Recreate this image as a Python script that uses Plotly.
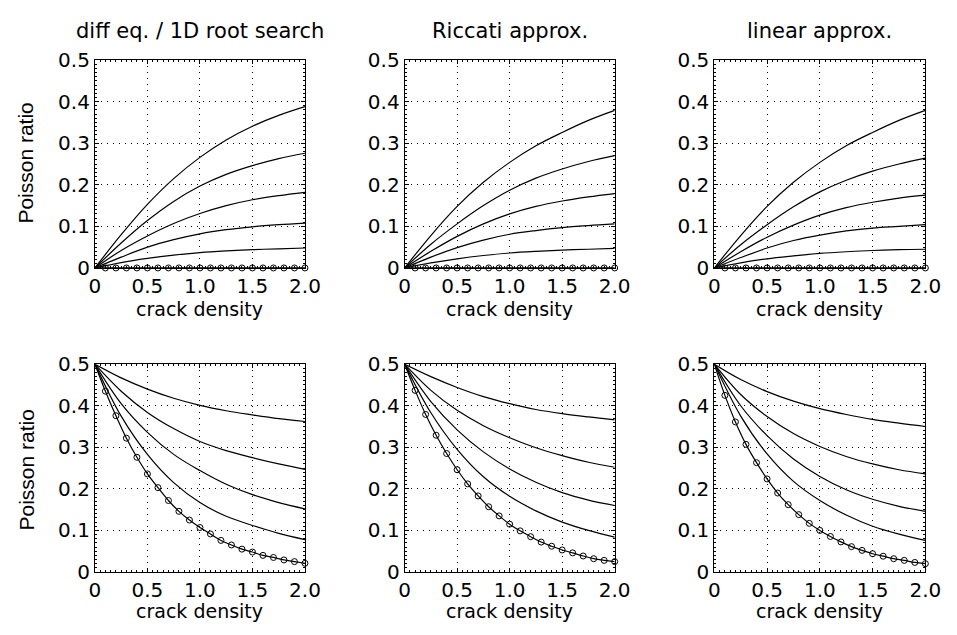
import plotly.graph_objects as go

# ---------------- data ----------------
X_CURVE = [0, 0.25, 0.5, 0.75, 1.0, 1.25, 1.5, 1.75, 2.0]
X_MARK = [0, 0.1, 0.2, 0.3, 0.4, 0.5, 0.6, 0.7, 0.8, 0.9, 1.0,
          1.1, 1.2, 1.3, 1.4, 1.5, 1.6, 1.7, 1.8, 1.9, 2.0]

PANEL_TITLES = ["diff eq. / 1D root search", "Riccati approx.", "linear approx."]
X_TICKVALS = [0, 0.5, 1.0, 1.5, 2.0]
X_TICKTEXT = ["0", "0.5", "1.0", "1.5", "2.0"]
Y_TICKVALS = [0, 0.1, 0.2, 0.3, 0.4, 0.5]
Y_TICKTEXT = ["0", "0.1", "0.2", "0.3", "0.4", "0.5"]

# top row (starting Poisson ratio 0)
top_diff = [
    [0, 0.080, 0.153, 0.215, 0.266, 0.308, 0.341, 0.367, 0.388],
    [0, 0.060, 0.114, 0.160, 0.197, 0.225, 0.246, 0.263, 0.276],
    [0, 0.042, 0.077, 0.107, 0.131, 0.150, 0.164, 0.174, 0.182],
    [0, 0.026, 0.050, 0.068, 0.082, 0.092, 0.099, 0.104, 0.108],
    [0, 0.013, 0.023, 0.031, 0.037, 0.041, 0.044, 0.046, 0.048],
]
top_riccati = [
    [0, 0.078, 0.148, 0.206, 0.254, 0.294, 0.326, 0.355, 0.379],
    [0, 0.057, 0.106, 0.150, 0.187, 0.216, 0.238, 0.256, 0.270],
    [0, 0.040, 0.076, 0.106, 0.130, 0.148, 0.161, 0.171, 0.179],
    [0, 0.026, 0.049, 0.067, 0.081, 0.090, 0.097, 0.102, 0.106],
    [0, 0.012, 0.022, 0.030, 0.036, 0.040, 0.043, 0.045, 0.047],
]
top_linear = [
    [0, 0.078, 0.148, 0.206, 0.254, 0.294, 0.326, 0.355, 0.379],
    [0, 0.056, 0.104, 0.147, 0.183, 0.211, 0.233, 0.250, 0.264],
    [0, 0.039, 0.074, 0.103, 0.127, 0.145, 0.158, 0.168, 0.175],
    [0, 0.025, 0.048, 0.066, 0.079, 0.089, 0.096, 0.100, 0.104],
    [0, 0.012, 0.022, 0.029, 0.035, 0.039, 0.042, 0.044, 0.045],
]
top_marked = [0] * 21

# bottom row (starting Poisson ratio 0.5)
bot_diff = [
    [0.5, 0.467, 0.440, 0.418, 0.401, 0.388, 0.378, 0.369, 0.362],
    [0.5, 0.435, 0.384, 0.345, 0.314, 0.292, 0.275, 0.260, 0.247],
    [0.5, 0.405, 0.336, 0.283, 0.244, 0.211, 0.186, 0.167, 0.152],
    [0.5, 0.375, 0.283, 0.215, 0.167, 0.134, 0.112, 0.093, 0.078],
]
bot_diff_marked = [0.5, 0.435, 0.376, 0.322, 0.276, 0.236, 0.203, 0.172, 0.146, 0.125, 0.107,
                   0.0915, 0.076, 0.065, 0.055, 0.048, 0.040, 0.035, 0.029, 0.025, 0.021]

bot_riccati = [
    [0.5, 0.470, 0.444, 0.422, 0.405, 0.391, 0.381, 0.373, 0.366],
    [0.5, 0.437, 0.389, 0.352, 0.323, 0.299, 0.280, 0.264, 0.252],
    [0.5, 0.410, 0.342, 0.289, 0.248, 0.216, 0.191, 0.173, 0.160],
    [0.5, 0.383, 0.295, 0.229, 0.182, 0.147, 0.120, 0.100, 0.084],
]
bot_riccati_marked = [0.5, 0.437, 0.379, 0.329, 0.285, 0.246, 0.212, 0.183, 0.157, 0.135, 0.115,
                      0.099, 0.085, 0.072, 0.062, 0.053, 0.046, 0.0385, 0.032, 0.028, 0.025]

bot_linear = [
    [0.5, 0.463, 0.434, 0.411, 0.393, 0.379, 0.367, 0.358, 0.350],
    [0.5, 0.427, 0.374, 0.333, 0.302, 0.278, 0.260, 0.246, 0.236],
    [0.5, 0.400, 0.328, 0.272, 0.230, 0.198, 0.175, 0.158, 0.146],
    [0.5, 0.375, 0.284, 0.218, 0.172, 0.137, 0.110, 0.091, 0.076],
]
bot_linear_marked = [0.5, 0.425, 0.361, 0.307, 0.263, 0.224, 0.190, 0.162, 0.138, 0.117, 0.100,
                     0.0855, 0.0724, 0.061, 0.052, 0.044, 0.038, 0.032, 0.028, 0.023, 0.020]

# ---------------- layout ----------------
W, H = 957, 635


def px_x(a, b):
    return [a / W, b / W]


def px_y(top, bottom):
    return [(H - bottom) / H, (H - top) / H]


X_DOMAINS = [px_x(91, 306), px_x(408, 623), px_x(725, 941)]
Y_DOMAINS = {"top": px_y(50, 266), "bot": px_y(366, 582)}
X_STANDOFF = {"top": 0, "bot": 0}

FONT_H = "DejaVu Sans, Verdana, sans-serif"
FONT_V = "Liberation Sans, Arial, Helvetica, sans-serif"

fig = go.Figure()

panels = [
    ("top", 0, top_diff, top_marked),
    ("top", 1, top_riccati, top_marked),
    ("top", 2, top_linear, top_marked),
    ("bot", 0, bot_diff, bot_diff_marked),
    ("bot", 1, bot_riccati, bot_riccati_marked),
    ("bot", 2, bot_linear, bot_linear_marked),
]

line_style = dict(color="black", width=1.2, shape="spline", smoothing=1.0)

for idx, (row, col, curves, marked) in enumerate(panels):
    n = idx + 1
    xa = "x" if n == 1 else f"x{n}"
    ya = "y" if n == 1 else f"y{n}"
    for c in curves:
        fig.add_trace(go.Scatter(x=X_CURVE, y=c, mode="lines", line=line_style,
                                 xaxis=xa, yaxis=ya, showlegend=False, hoverinfo="skip"))
    fig.add_trace(go.Scatter(x=X_MARK, y=marked, mode="lines", line=line_style,
                             xaxis=xa, yaxis=ya, showlegend=False, hoverinfo="skip"))
    fig.add_trace(go.Scatter(x=X_MARK[1:], y=marked[1:], mode="markers",
                             marker=dict(symbol="circle-open", size=6, color="black",
                                         line=dict(width=1, color="black")),
                             cliponaxis=False,
                             xaxis=xa, yaxis=ya, showlegend=False, hoverinfo="skip"))

    axis_common = dict(
        showline=True, linecolor="black", linewidth=1, mirror="ticks",
        ticks="inside", ticklen=4, tickcolor="black", tickwidth=1,
        showgrid=True, gridcolor="black", gridwidth=1, griddash="1px,5px",
        zeroline=False, tickfont=dict(family=FONT_H, size=20, color="black"),
        fixedrange=True,
    )
    xkey = "xaxis" if n == 1 else f"xaxis{n}"
    ykey = "yaxis" if n == 1 else f"yaxis{n}"
    fig.layout[xkey] = dict(
        axis_common, domain=X_DOMAINS[col], range=[0, 2.0], anchor=ya,
        tickvals=X_TICKVALS, ticktext=X_TICKTEXT, ticklabelstandoff=X_STANDOFF[row],
        minor=dict(dtick=0.05, tick0=0, ticks="inside", ticklen=2, tickcolor="black", showgrid=False),
    )
    fig.layout[ykey] = dict(
        axis_common, domain=Y_DOMAINS[row], range=[0, 0.5], anchor=xa,
        tickvals=Y_TICKVALS, ticktext=Y_TICKTEXT,
        minor=dict(dtick=0.01, tick0=0, ticks="inside", ticklen=2, tickcolor="black", showgrid=False),
    )

annotations = []
for col in range(3):
    xc = (X_DOMAINS[col][0] + X_DOMAINS[col][1]) / 2
    annotations.append(dict(text=PANEL_TITLES[col], x=xc, y=1 - 20 / H,
                            xref="paper", yref="paper",
                            xanchor="center", yanchor="middle", showarrow=False,
                            font=dict(family=FONT_H, size=21, color="black")))
    for yc in (309, 623):
        annotations.append(dict(text="crack density", x=xc, y=1 - yc / H,
                                xref="paper", yref="paper",
                                xanchor="center", yanchor="middle", showarrow=False,
                                font=dict(family=FONT_H, size=19, color="black")))
for yc in (157, 476):
    annotations.append(dict(text="Poisson ratio", x=20 / W, y=1 - yc / H,
                            xref="paper", yref="paper",
                            xanchor="center", yanchor="middle", showarrow=False, textangle=-90,
                            font=dict(family=FONT_V, size=21, color="black")))

fig.update_layout(
    width=W, height=H, margin=dict(l=0, r=0, t=0, b=0),
    paper_bgcolor="white", plot_bgcolor="white",
    annotations=annotations, showlegend=False,
)

fig.write_html("out.html", config={"displayModeBar": False})
